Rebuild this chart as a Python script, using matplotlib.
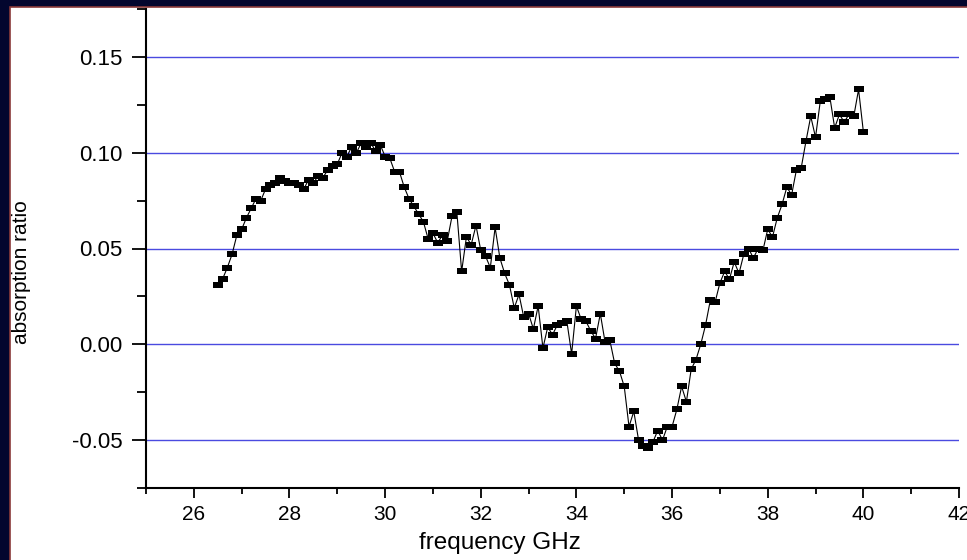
import numpy as np
import matplotlib
matplotlib.use('Agg')
import matplotlib.pyplot as plt
from matplotlib.patches import Rectangle
from matplotlib.ticker import MultipleLocator, FormatStrFormatter

plt.rcParams['font.family'] = ['Liberation Sans', 'DejaVu Sans']
plt.rcParams['axes.unicode_minus'] = False

# frequency sweep (GHz), one row per GHz
freq = [26.5, 26.6, 26.7, 26.8, 26.9,
        27.0, 27.1, 27.2, 27.3, 27.4, 27.5, 27.6, 27.7, 27.8, 27.9,
        28.0, 28.1, 28.2, 28.3, 28.4, 28.5, 28.6, 28.7, 28.8, 28.9,
        29.0, 29.1, 29.2, 29.3, 29.4, 29.5, 29.6, 29.7, 29.8, 29.9,
        30.0, 30.1, 30.2, 30.3, 30.4, 30.5, 30.6, 30.7, 30.8, 30.9,
        31.0, 31.1, 31.2, 31.3, 31.4, 31.5, 31.6, 31.7, 31.8, 31.9,
        32.0, 32.1, 32.2, 32.3, 32.4, 32.5, 32.6, 32.7, 32.8, 32.9,
        33.0, 33.1, 33.2, 33.3, 33.4, 33.5, 33.6, 33.7, 33.8, 33.9,
        34.0, 34.1, 34.2, 34.3, 34.4, 34.5, 34.6, 34.7, 34.8, 34.9,
        35.0, 35.1, 35.2, 35.3, 35.4, 35.5, 35.6, 35.7, 35.8, 35.9,
        36.0, 36.1, 36.2, 36.3, 36.4, 36.5, 36.6, 36.7, 36.8, 36.9,
        37.0, 37.1, 37.2, 37.3, 37.4, 37.5, 37.6, 37.7, 37.8, 37.9,
        38.0, 38.1, 38.2, 38.3, 38.4, 38.5, 38.6, 38.7, 38.8, 38.9,
        39.0, 39.1, 39.2, 39.3, 39.4, 39.5, 39.6, 39.7, 39.8, 39.9,
        40.0]

# absorption ratio
absorption = [0.031, 0.034, 0.040, 0.047, 0.057,
              0.060, 0.066, 0.071, 0.076, 0.075, 0.081, 0.083, 0.084, 0.087, 0.085,
              0.084, 0.084, 0.083, 0.081, 0.086, 0.084, 0.088, 0.087, 0.091, 0.093,
              0.094, 0.100, 0.098, 0.103, 0.100, 0.105, 0.103, 0.105, 0.101, 0.104,
              0.098, 0.097, 0.090, 0.090, 0.082, 0.076, 0.072, 0.068, 0.064, 0.055,
              0.058, 0.053, 0.057, 0.054, 0.067, 0.069, 0.038, 0.056, 0.052, 0.062,
              0.049, 0.046, 0.040, 0.061, 0.045, 0.037, 0.031, 0.019, 0.026, 0.014,
              0.016, 0.008, 0.020, -0.002, 0.009, 0.005, 0.010, 0.011, 0.012, -0.005,
              0.020, 0.013, 0.012, 0.007, 0.003, 0.016, 0.001, 0.002, -0.010, -0.014,
              -0.022, -0.043, -0.035, -0.050, -0.053, -0.054, -0.051, -0.045, -0.050, -0.043,
              -0.043, -0.034, -0.022, -0.030, -0.013, -0.008, 0.000, 0.010, 0.023, 0.022,
              0.032, 0.038, 0.034, 0.043, 0.037, 0.047, 0.050, 0.045, 0.050, 0.049,
              0.060, 0.056, 0.066, 0.073, 0.082, 0.078, 0.091, 0.092, 0.106, 0.119,
              0.108, 0.127, 0.128, 0.129, 0.113, 0.120, 0.116, 0.120, 0.119, 0.133,
              0.111]

W, H = 967, 560
fig = plt.figure(figsize=(W / 100, H / 100), dpi=100, facecolor='#03062e')

# white slide panel with thin brown border
panel = Rectangle((10 / W, -0.05), 1.1, 1.05 - 7 / H, transform=fig.transFigure,
                  facecolor='white', edgecolor='#8a3a3a', lw=1.2, zorder=-10)
fig.patches.append(panel)

ax = fig.add_axes([146 / W, (H - 488) / H, (959 - 146) / W, (488 - 9) / H])
ax.set_zorder(5)
ax.set_facecolor('white')

rect_marker = [(-1.5, -1), (1.5, -1), (1.5, 1), (-1.5, 1), (-1.5, -1)]
ax.plot(freq, absorption, color='black', lw=0.8, marker=rect_marker,
        markersize=7.2, markerfacecolor='black', markeredgewidth=0, zorder=3)

ax.set_xlim(25, 42)
ax.set_ylim(-0.075, 0.175)
ax.xaxis.set_major_locator(MultipleLocator(2))
ax.xaxis.set_minor_locator(MultipleLocator(1))
ax.yaxis.set_major_locator(MultipleLocator(0.05))
ax.yaxis.set_minor_locator(MultipleLocator(0.025))
ax.yaxis.set_major_formatter(FormatStrFormatter('%.2f'))

ax.yaxis.grid(True, which='major', color='#4a4ae0', lw=1.0)
ax.set_axisbelow(True)

for s in ['top', 'right']:
    ax.spines[s].set_visible(False)
for s in ['left', 'bottom']:
    ax.spines[s].set_linewidth(1.5)
    ax.spines[s].set_color('black')

ax.tick_params(axis='y', which='major', direction='out', length=10, width=1.3,
               labelsize=16, pad=7)
ax.tick_params(axis='y', which='minor', direction='out', length=6.5, width=1.3)
ax.tick_params(axis='x', which='major', direction='out', length=7, width=1.3,
               labelsize=15, pad=5)
ax.tick_params(axis='x', which='minor', direction='out', length=4.5, width=1.3)

fig.text(22 / W, 1 - 272 / H, 'absorption ratio', rotation=90, ha='center',
         va='center', fontsize=15)
fig.text(500 / W, 1 - 543 / H, 'frequency GHz', ha='center', va='center',
         fontsize=17.5)

fig.savefig('out.png', dpi=100, facecolor=fig.get_facecolor())
